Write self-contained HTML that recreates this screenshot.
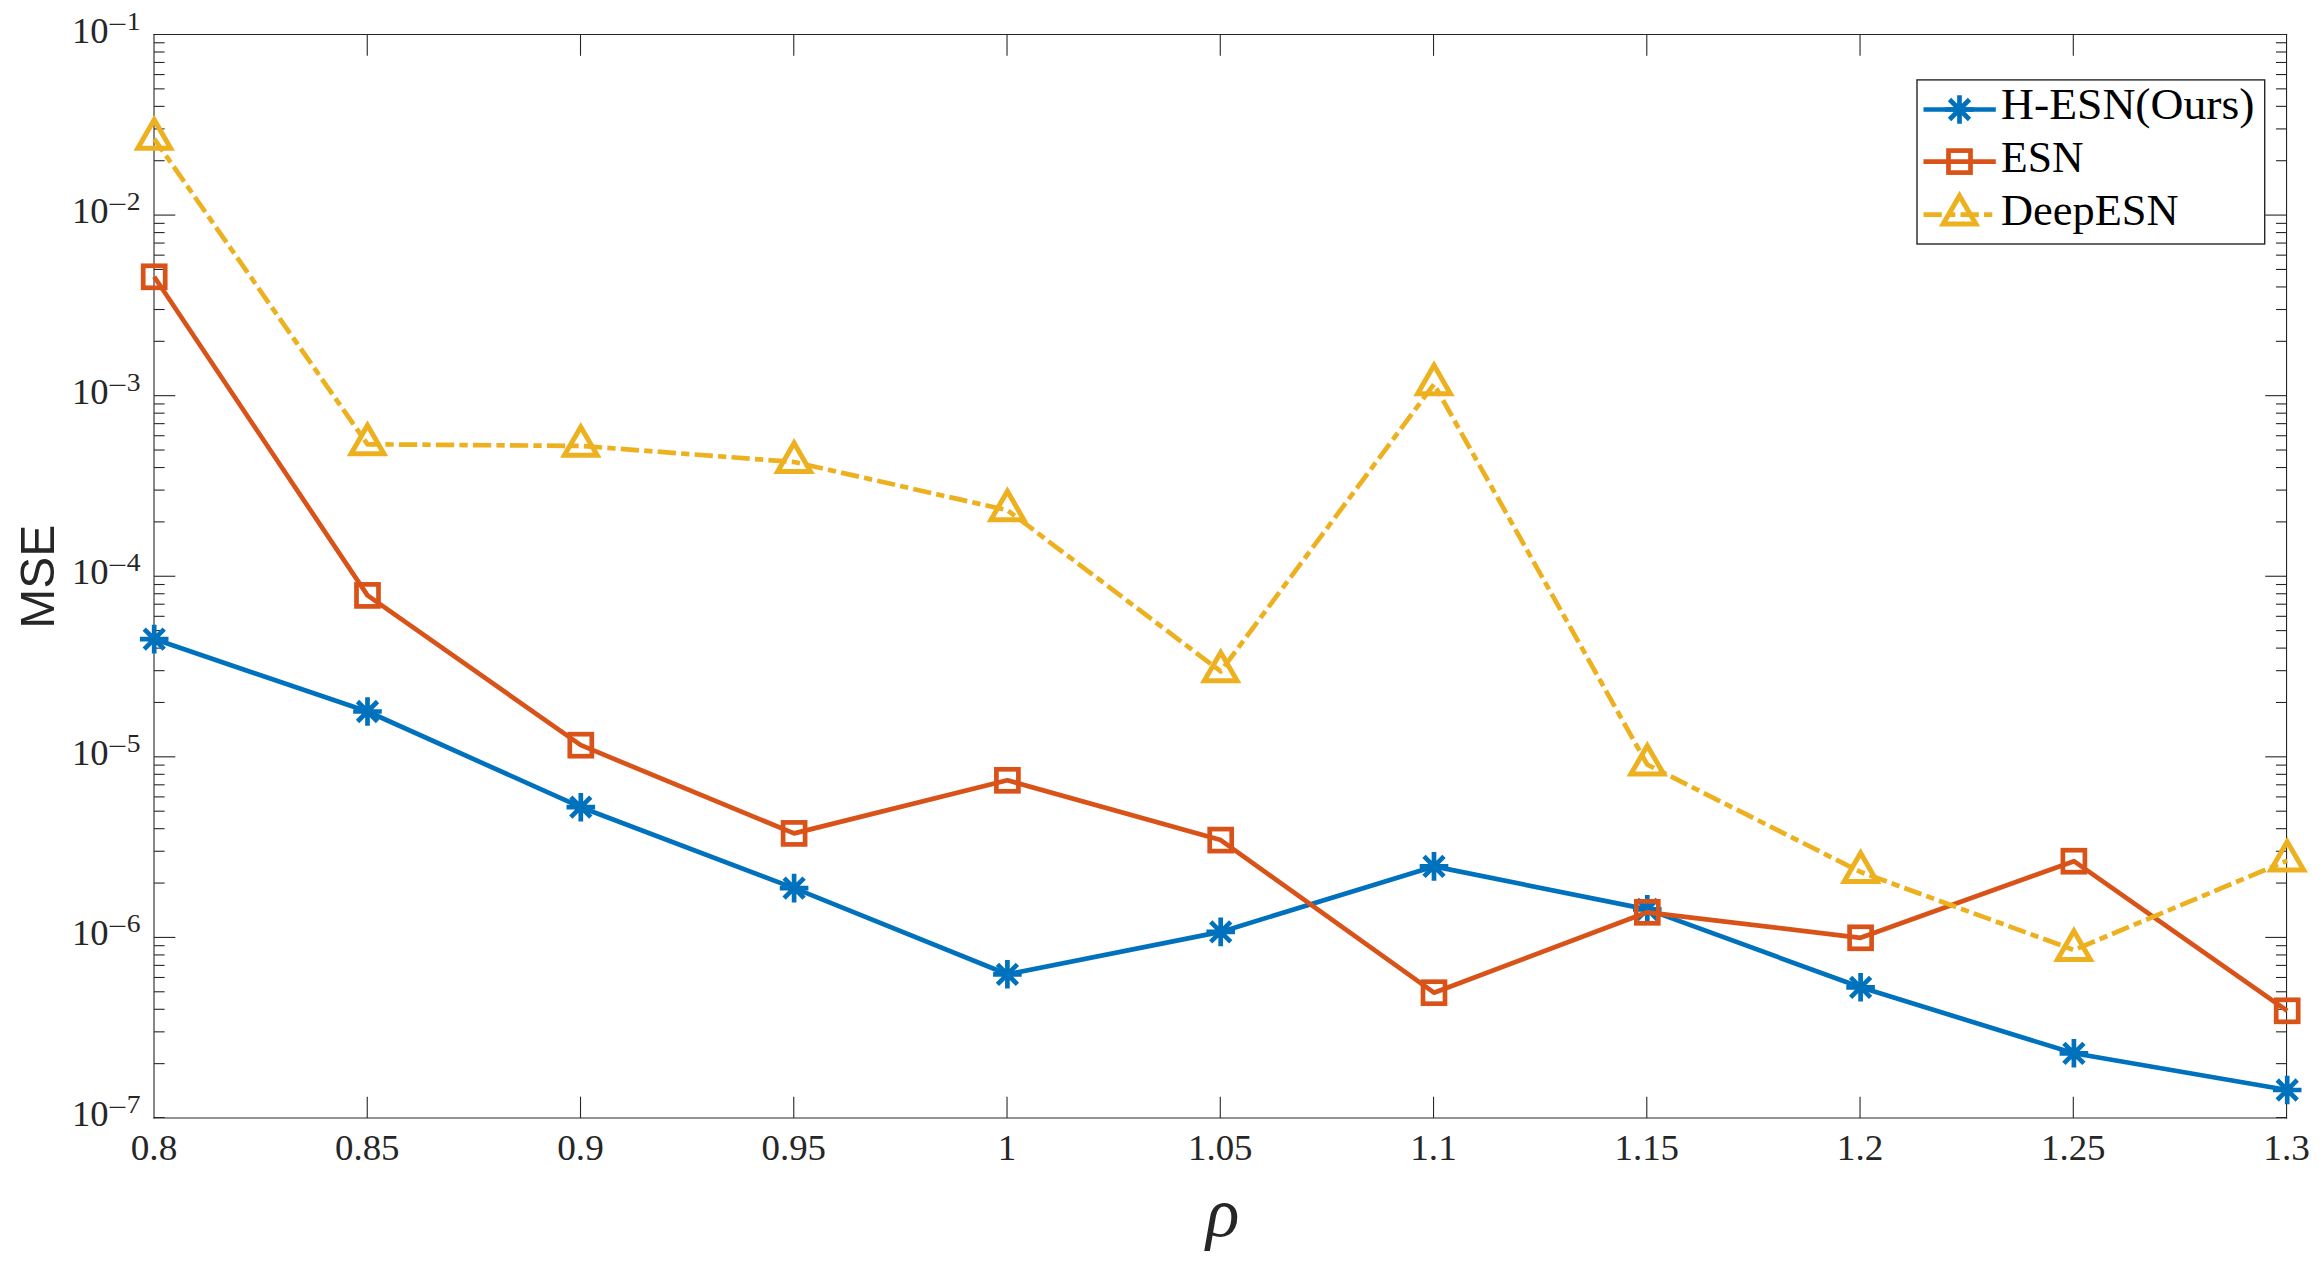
<!DOCTYPE html>
<html lang="en"><head><meta charset="utf-8"><title>MSE vs rho</title>
<style>html,body{margin:0;padding:0;background:#fff;}body{width:2324px;height:1277px;overflow:hidden;}svg{display:block;}</style>
</head><body>
<svg width="2324" height="1277" viewBox="0 0 2324 1277">
<rect x="0" y="0" width="2324" height="1277" fill="#ffffff"/>
<g stroke="#262626" stroke-width="1.1" fill="none" stroke-linecap="butt">
<line x1="154.0" y1="33.9" x2="154.0" y2="1118.6"/>
<line x1="2286.55" y1="33.9" x2="2286.55" y2="1118.6"/>
<line x1="153.4" y1="34.5" x2="2287.15" y2="34.5"/>
<line x1="153.4" y1="1118.0" x2="2287.15" y2="1118.0"/>
<line x1="367.25" y1="1118.0" x2="367.25" y2="1096.7"/>
<line x1="367.25" y1="34.5" x2="367.25" y2="55.8"/>
<line x1="580.51" y1="1118.0" x2="580.51" y2="1096.7"/>
<line x1="580.51" y1="34.5" x2="580.51" y2="55.8"/>
<line x1="793.77" y1="1118.0" x2="793.77" y2="1096.7"/>
<line x1="793.77" y1="34.5" x2="793.77" y2="55.8"/>
<line x1="1007.02" y1="1118.0" x2="1007.02" y2="1096.7"/>
<line x1="1007.02" y1="34.5" x2="1007.02" y2="55.8"/>
<line x1="1220.28" y1="1118.0" x2="1220.28" y2="1096.7"/>
<line x1="1220.28" y1="34.5" x2="1220.28" y2="55.8"/>
<line x1="1433.53" y1="1118.0" x2="1433.53" y2="1096.7"/>
<line x1="1433.53" y1="34.5" x2="1433.53" y2="55.8"/>
<line x1="1646.79" y1="1118.0" x2="1646.79" y2="1096.7"/>
<line x1="1646.79" y1="34.5" x2="1646.79" y2="55.8"/>
<line x1="1860.04" y1="1118.0" x2="1860.04" y2="1096.7"/>
<line x1="1860.04" y1="34.5" x2="1860.04" y2="55.8"/>
<line x1="2073.30" y1="1118.0" x2="2073.30" y2="1096.7"/>
<line x1="2073.30" y1="34.5" x2="2073.30" y2="55.8"/>
<line x1="154.0" y1="160.72" x2="164.6" y2="160.72"/>
<line x1="2286.55" y1="160.72" x2="2275.9500000000003" y2="160.72"/>
<line x1="154.0" y1="128.92" x2="164.6" y2="128.92"/>
<line x1="2286.55" y1="128.92" x2="2275.9500000000003" y2="128.92"/>
<line x1="154.0" y1="106.36" x2="164.6" y2="106.36"/>
<line x1="2286.55" y1="106.36" x2="2275.9500000000003" y2="106.36"/>
<line x1="154.0" y1="88.86" x2="164.6" y2="88.86"/>
<line x1="2286.55" y1="88.86" x2="2275.9500000000003" y2="88.86"/>
<line x1="154.0" y1="74.56" x2="164.6" y2="74.56"/>
<line x1="2286.55" y1="74.56" x2="2275.9500000000003" y2="74.56"/>
<line x1="154.0" y1="62.47" x2="164.6" y2="62.47"/>
<line x1="2286.55" y1="62.47" x2="2275.9500000000003" y2="62.47"/>
<line x1="154.0" y1="52.00" x2="164.6" y2="52.00"/>
<line x1="2286.55" y1="52.00" x2="2275.9500000000003" y2="52.00"/>
<line x1="154.0" y1="42.76" x2="164.6" y2="42.76"/>
<line x1="2286.55" y1="42.76" x2="2275.9500000000003" y2="42.76"/>
<line x1="154.0" y1="215.08" x2="175.3" y2="215.08"/>
<line x1="2286.55" y1="215.08" x2="2265.25" y2="215.08"/>
<line x1="154.0" y1="341.31" x2="164.6" y2="341.31"/>
<line x1="2286.55" y1="341.31" x2="2275.9500000000003" y2="341.31"/>
<line x1="154.0" y1="309.51" x2="164.6" y2="309.51"/>
<line x1="2286.55" y1="309.51" x2="2275.9500000000003" y2="309.51"/>
<line x1="154.0" y1="286.94" x2="164.6" y2="286.94"/>
<line x1="2286.55" y1="286.94" x2="2275.9500000000003" y2="286.94"/>
<line x1="154.0" y1="269.44" x2="164.6" y2="269.44"/>
<line x1="2286.55" y1="269.44" x2="2275.9500000000003" y2="269.44"/>
<line x1="154.0" y1="255.15" x2="164.6" y2="255.15"/>
<line x1="2286.55" y1="255.15" x2="2275.9500000000003" y2="255.15"/>
<line x1="154.0" y1="243.06" x2="164.6" y2="243.06"/>
<line x1="2286.55" y1="243.06" x2="2275.9500000000003" y2="243.06"/>
<line x1="154.0" y1="232.58" x2="164.6" y2="232.58"/>
<line x1="2286.55" y1="232.58" x2="2275.9500000000003" y2="232.58"/>
<line x1="154.0" y1="223.35" x2="164.6" y2="223.35"/>
<line x1="2286.55" y1="223.35" x2="2275.9500000000003" y2="223.35"/>
<line x1="154.0" y1="395.67" x2="175.3" y2="395.67"/>
<line x1="2286.55" y1="395.67" x2="2265.25" y2="395.67"/>
<line x1="154.0" y1="521.89" x2="164.6" y2="521.89"/>
<line x1="2286.55" y1="521.89" x2="2275.9500000000003" y2="521.89"/>
<line x1="154.0" y1="490.09" x2="164.6" y2="490.09"/>
<line x1="2286.55" y1="490.09" x2="2275.9500000000003" y2="490.09"/>
<line x1="154.0" y1="467.53" x2="164.6" y2="467.53"/>
<line x1="2286.55" y1="467.53" x2="2275.9500000000003" y2="467.53"/>
<line x1="154.0" y1="450.03" x2="164.6" y2="450.03"/>
<line x1="2286.55" y1="450.03" x2="2275.9500000000003" y2="450.03"/>
<line x1="154.0" y1="435.73" x2="164.6" y2="435.73"/>
<line x1="2286.55" y1="435.73" x2="2275.9500000000003" y2="435.73"/>
<line x1="154.0" y1="423.64" x2="164.6" y2="423.64"/>
<line x1="2286.55" y1="423.64" x2="2275.9500000000003" y2="423.64"/>
<line x1="154.0" y1="413.17" x2="164.6" y2="413.17"/>
<line x1="2286.55" y1="413.17" x2="2275.9500000000003" y2="413.17"/>
<line x1="154.0" y1="403.93" x2="164.6" y2="403.93"/>
<line x1="2286.55" y1="403.93" x2="2275.9500000000003" y2="403.93"/>
<line x1="154.0" y1="576.25" x2="175.3" y2="576.25"/>
<line x1="2286.55" y1="576.25" x2="2265.25" y2="576.25"/>
<line x1="154.0" y1="702.47" x2="164.6" y2="702.47"/>
<line x1="2286.55" y1="702.47" x2="2275.9500000000003" y2="702.47"/>
<line x1="154.0" y1="670.67" x2="164.6" y2="670.67"/>
<line x1="2286.55" y1="670.67" x2="2275.9500000000003" y2="670.67"/>
<line x1="154.0" y1="648.11" x2="164.6" y2="648.11"/>
<line x1="2286.55" y1="648.11" x2="2275.9500000000003" y2="648.11"/>
<line x1="154.0" y1="630.61" x2="164.6" y2="630.61"/>
<line x1="2286.55" y1="630.61" x2="2275.9500000000003" y2="630.61"/>
<line x1="154.0" y1="616.31" x2="164.6" y2="616.31"/>
<line x1="2286.55" y1="616.31" x2="2275.9500000000003" y2="616.31"/>
<line x1="154.0" y1="604.22" x2="164.6" y2="604.22"/>
<line x1="2286.55" y1="604.22" x2="2275.9500000000003" y2="604.22"/>
<line x1="154.0" y1="593.75" x2="164.6" y2="593.75"/>
<line x1="2286.55" y1="593.75" x2="2275.9500000000003" y2="593.75"/>
<line x1="154.0" y1="584.51" x2="164.6" y2="584.51"/>
<line x1="2286.55" y1="584.51" x2="2275.9500000000003" y2="584.51"/>
<line x1="154.0" y1="756.83" x2="175.3" y2="756.83"/>
<line x1="2286.55" y1="756.83" x2="2265.25" y2="756.83"/>
<line x1="154.0" y1="883.06" x2="164.6" y2="883.06"/>
<line x1="2286.55" y1="883.06" x2="2275.9500000000003" y2="883.06"/>
<line x1="154.0" y1="851.26" x2="164.6" y2="851.26"/>
<line x1="2286.55" y1="851.26" x2="2275.9500000000003" y2="851.26"/>
<line x1="154.0" y1="828.69" x2="164.6" y2="828.69"/>
<line x1="2286.55" y1="828.69" x2="2275.9500000000003" y2="828.69"/>
<line x1="154.0" y1="811.19" x2="164.6" y2="811.19"/>
<line x1="2286.55" y1="811.19" x2="2275.9500000000003" y2="811.19"/>
<line x1="154.0" y1="796.90" x2="164.6" y2="796.90"/>
<line x1="2286.55" y1="796.90" x2="2275.9500000000003" y2="796.90"/>
<line x1="154.0" y1="784.81" x2="164.6" y2="784.81"/>
<line x1="2286.55" y1="784.81" x2="2275.9500000000003" y2="784.81"/>
<line x1="154.0" y1="774.33" x2="164.6" y2="774.33"/>
<line x1="2286.55" y1="774.33" x2="2275.9500000000003" y2="774.33"/>
<line x1="154.0" y1="765.10" x2="164.6" y2="765.10"/>
<line x1="2286.55" y1="765.10" x2="2275.9500000000003" y2="765.10"/>
<line x1="154.0" y1="937.42" x2="175.3" y2="937.42"/>
<line x1="2286.55" y1="937.42" x2="2265.25" y2="937.42"/>
<line x1="154.0" y1="1063.64" x2="164.6" y2="1063.64"/>
<line x1="2286.55" y1="1063.64" x2="2275.9500000000003" y2="1063.64"/>
<line x1="154.0" y1="1031.84" x2="164.6" y2="1031.84"/>
<line x1="2286.55" y1="1031.84" x2="2275.9500000000003" y2="1031.84"/>
<line x1="154.0" y1="1009.28" x2="164.6" y2="1009.28"/>
<line x1="2286.55" y1="1009.28" x2="2275.9500000000003" y2="1009.28"/>
<line x1="154.0" y1="991.78" x2="164.6" y2="991.78"/>
<line x1="2286.55" y1="991.78" x2="2275.9500000000003" y2="991.78"/>
<line x1="154.0" y1="977.48" x2="164.6" y2="977.48"/>
<line x1="2286.55" y1="977.48" x2="2275.9500000000003" y2="977.48"/>
<line x1="154.0" y1="965.39" x2="164.6" y2="965.39"/>
<line x1="2286.55" y1="965.39" x2="2275.9500000000003" y2="965.39"/>
<line x1="154.0" y1="954.92" x2="164.6" y2="954.92"/>
<line x1="2286.55" y1="954.92" x2="2275.9500000000003" y2="954.92"/>
<line x1="154.0" y1="945.68" x2="164.6" y2="945.68"/>
<line x1="2286.55" y1="945.68" x2="2275.9500000000003" y2="945.68"/>
<line x1="154.0" y1="1117.5" x2="164.6" y2="1117.5" stroke-width="1"/>
<line x1="2286.55" y1="1117.5" x2="2275.9500000000003" y2="1117.5" stroke-width="1"/>
</g>
<g font-family="&quot;Liberation Serif&quot;, serif" font-size="36.5" fill="#262626" text-anchor="middle">
<text x="154.00" y="1159.5" textLength="46.5" lengthAdjust="spacingAndGlyphs">0.8</text>
<text x="367.25" y="1159.5" textLength="64.5" lengthAdjust="spacingAndGlyphs">0.85</text>
<text x="580.51" y="1159.5" textLength="46.5" lengthAdjust="spacingAndGlyphs">0.9</text>
<text x="793.77" y="1159.5" textLength="64.5" lengthAdjust="spacingAndGlyphs">0.95</text>
<text x="1007.02" y="1159.5" textLength="18.5" lengthAdjust="spacingAndGlyphs">1</text>
<text x="1220.28" y="1159.5" textLength="64.5" lengthAdjust="spacingAndGlyphs">1.05</text>
<text x="1433.53" y="1159.5" textLength="46.5" lengthAdjust="spacingAndGlyphs">1.1</text>
<text x="1646.79" y="1159.5" textLength="64.5" lengthAdjust="spacingAndGlyphs">1.15</text>
<text x="1860.04" y="1159.5" textLength="46.5" lengthAdjust="spacingAndGlyphs">1.2</text>
<text x="2073.30" y="1159.5" textLength="64.5" lengthAdjust="spacingAndGlyphs">1.25</text>
<text x="2286.55" y="1159.5" textLength="46.5" lengthAdjust="spacingAndGlyphs">1.3</text>
</g>
<g font-family="&quot;Liberation Serif&quot;, serif" fill="#262626">
<text x="72.0" y="42.80" font-size="36.5" textLength="36.6" lengthAdjust="spacingAndGlyphs">10</text>
<text x="108.0" y="31.70" font-size="23.7" textLength="19.2" lengthAdjust="spacingAndGlyphs">−</text>
<text x="126.8" y="30.00" font-size="25" textLength="13.8" lengthAdjust="spacingAndGlyphs">1</text>
<text x="72.0" y="223.28" font-size="36.5" textLength="36.6" lengthAdjust="spacingAndGlyphs">10</text>
<text x="108.0" y="212.18" font-size="23.7" textLength="19.2" lengthAdjust="spacingAndGlyphs">−</text>
<text x="126.8" y="210.48" font-size="25" textLength="13.8" lengthAdjust="spacingAndGlyphs">2</text>
<text x="72.0" y="403.76" font-size="36.5" textLength="36.6" lengthAdjust="spacingAndGlyphs">10</text>
<text x="108.0" y="392.66" font-size="23.7" textLength="19.2" lengthAdjust="spacingAndGlyphs">−</text>
<text x="126.8" y="390.96" font-size="25" textLength="13.8" lengthAdjust="spacingAndGlyphs">3</text>
<text x="72.0" y="584.24" font-size="36.5" textLength="36.6" lengthAdjust="spacingAndGlyphs">10</text>
<text x="108.0" y="573.14" font-size="23.7" textLength="19.2" lengthAdjust="spacingAndGlyphs">−</text>
<text x="126.8" y="571.44" font-size="25" textLength="13.8" lengthAdjust="spacingAndGlyphs">4</text>
<text x="72.0" y="764.72" font-size="36.5" textLength="36.6" lengthAdjust="spacingAndGlyphs">10</text>
<text x="108.0" y="753.62" font-size="23.7" textLength="19.2" lengthAdjust="spacingAndGlyphs">−</text>
<text x="126.8" y="751.92" font-size="25" textLength="13.8" lengthAdjust="spacingAndGlyphs">5</text>
<text x="72.0" y="945.20" font-size="36.5" textLength="36.6" lengthAdjust="spacingAndGlyphs">10</text>
<text x="108.0" y="934.10" font-size="23.7" textLength="19.2" lengthAdjust="spacingAndGlyphs">−</text>
<text x="126.8" y="932.40" font-size="25" textLength="13.8" lengthAdjust="spacingAndGlyphs">6</text>
<text x="72.0" y="1125.68" font-size="36.5" textLength="36.6" lengthAdjust="spacingAndGlyphs">10</text>
<text x="108.0" y="1114.58" font-size="23.7" textLength="19.2" lengthAdjust="spacingAndGlyphs">−</text>
<text x="126.8" y="1112.88" font-size="25" textLength="13.8" lengthAdjust="spacingAndGlyphs">7</text>
</g>
<text transform="translate(53.9,576.7) rotate(-90)" text-anchor="middle" font-family="&quot;Liberation Sans&quot;, sans-serif" font-size="48.2" textLength="103.9" lengthAdjust="spacingAndGlyphs" fill="#262626">MSE</text>
<text x="1206" y="1236.1" font-family="&quot;Liberation Serif&quot;, serif" font-style="italic" font-size="69.5" fill="#262626">ρ</text>
<polyline points="154.20,639.10 367.50,711.50 580.80,807.20 794.10,888.10 1007.40,974.30 1220.70,931.90 1434.00,866.40 1647.30,909.40 1860.60,987.30 2073.90,1053.30 2287.20,1090.00" fill="none" stroke="#0072BD" stroke-width="4.7" stroke-linejoin="round"/>
<path d="M139.90 639.10H168.50M154.20 624.80V653.40M144.20 629.10L164.20 649.10M144.20 649.10L164.20 629.10" stroke="#0072BD" stroke-width="4.7" fill="none"/>
<path d="M353.20 711.50H381.80M367.50 697.20V725.80M357.50 701.50L377.50 721.50M357.50 721.50L377.50 701.50" stroke="#0072BD" stroke-width="4.7" fill="none"/>
<path d="M566.50 807.20H595.10M580.80 792.90V821.50M570.80 797.20L590.80 817.20M570.80 817.20L590.80 797.20" stroke="#0072BD" stroke-width="4.7" fill="none"/>
<path d="M779.80 888.10H808.40M794.10 873.80V902.40M784.10 878.10L804.10 898.10M784.10 898.10L804.10 878.10" stroke="#0072BD" stroke-width="4.7" fill="none"/>
<path d="M993.10 974.30H1021.70M1007.40 960.00V988.60M997.40 964.30L1017.40 984.30M997.40 984.30L1017.40 964.30" stroke="#0072BD" stroke-width="4.7" fill="none"/>
<path d="M1206.40 931.90H1235.00M1220.70 917.60V946.20M1210.70 921.90L1230.70 941.90M1210.70 941.90L1230.70 921.90" stroke="#0072BD" stroke-width="4.7" fill="none"/>
<path d="M1419.70 866.40H1448.30M1434.00 852.10V880.70M1424.00 856.40L1444.00 876.40M1424.00 876.40L1444.00 856.40" stroke="#0072BD" stroke-width="4.7" fill="none"/>
<path d="M1633.00 909.40H1661.60M1647.30 895.10V923.70M1637.30 899.40L1657.30 919.40M1637.30 919.40L1657.30 899.40" stroke="#0072BD" stroke-width="4.7" fill="none"/>
<path d="M1846.30 987.30H1874.90M1860.60 973.00V1001.60M1850.60 977.30L1870.60 997.30M1850.60 997.30L1870.60 977.30" stroke="#0072BD" stroke-width="4.7" fill="none"/>
<path d="M2059.60 1053.30H2088.20M2073.90 1039.00V1067.60M2063.90 1043.30L2083.90 1063.30M2063.90 1063.30L2083.90 1043.30" stroke="#0072BD" stroke-width="4.7" fill="none"/>
<path d="M2272.90 1090.00H2301.50M2287.20 1075.70V1104.30M2277.20 1080.00L2297.20 1100.00M2277.20 1100.00L2297.20 1080.00" stroke="#0072BD" stroke-width="4.7" fill="none"/>
<polyline points="154.20,276.80 367.50,595.40 580.80,745.20 794.10,833.40 1007.40,780.30 1220.70,840.10 1434.00,992.70 1647.30,912.30 1860.60,937.80 2073.90,861.20 2287.20,1010.80" fill="none" stroke="#D95319" stroke-width="4.7" stroke-linejoin="round"/>
<rect x="143.20" y="265.80" width="22.0" height="22.0" stroke="#D95319" stroke-width="4.7" fill="none"/>
<rect x="356.50" y="584.40" width="22.0" height="22.0" stroke="#D95319" stroke-width="4.7" fill="none"/>
<rect x="569.80" y="734.20" width="22.0" height="22.0" stroke="#D95319" stroke-width="4.7" fill="none"/>
<rect x="783.10" y="822.40" width="22.0" height="22.0" stroke="#D95319" stroke-width="4.7" fill="none"/>
<rect x="996.40" y="769.30" width="22.0" height="22.0" stroke="#D95319" stroke-width="4.7" fill="none"/>
<rect x="1209.70" y="829.10" width="22.0" height="22.0" stroke="#D95319" stroke-width="4.7" fill="none"/>
<rect x="1423.00" y="981.70" width="22.0" height="22.0" stroke="#D95319" stroke-width="4.7" fill="none"/>
<rect x="1636.30" y="901.30" width="22.0" height="22.0" stroke="#D95319" stroke-width="4.7" fill="none"/>
<rect x="1849.60" y="926.80" width="22.0" height="22.0" stroke="#D95319" stroke-width="4.7" fill="none"/>
<rect x="2062.90" y="850.20" width="22.0" height="22.0" stroke="#D95319" stroke-width="4.7" fill="none"/>
<rect x="2276.20" y="999.80" width="22.0" height="22.0" stroke="#D95319" stroke-width="4.7" fill="none"/>
<polyline points="154.20,138.80 367.50,444.30 580.80,445.90 794.10,462.00 1007.40,510.20 1220.70,671.40 1434.00,384.20 1647.30,764.60 1860.60,872.00 2073.90,950.00 2287.20,860.60" fill="none" stroke="#EDB120" stroke-width="4.7" stroke-linejoin="round" stroke-dasharray="18.3 5.2 8.3 5.2" stroke-dashoffset="3"/>
<path d="M154.20 119.86L170.60 148.27L137.80 148.27Z" stroke="#EDB120" stroke-width="5" fill="none" stroke-linejoin="miter" stroke-miterlimit="10"/>
<path d="M367.50 425.36L383.90 453.77L351.10 453.77Z" stroke="#EDB120" stroke-width="5" fill="none" stroke-linejoin="miter" stroke-miterlimit="10"/>
<path d="M580.80 426.96L597.20 455.37L564.40 455.37Z" stroke="#EDB120" stroke-width="5" fill="none" stroke-linejoin="miter" stroke-miterlimit="10"/>
<path d="M794.10 443.06L810.50 471.47L777.70 471.47Z" stroke="#EDB120" stroke-width="5" fill="none" stroke-linejoin="miter" stroke-miterlimit="10"/>
<path d="M1007.40 491.26L1023.80 519.67L991.00 519.67Z" stroke="#EDB120" stroke-width="5" fill="none" stroke-linejoin="miter" stroke-miterlimit="10"/>
<path d="M1220.70 652.46L1237.10 680.87L1204.30 680.87Z" stroke="#EDB120" stroke-width="5" fill="none" stroke-linejoin="miter" stroke-miterlimit="10"/>
<path d="M1434.00 365.26L1450.40 393.67L1417.60 393.67Z" stroke="#EDB120" stroke-width="5" fill="none" stroke-linejoin="miter" stroke-miterlimit="10"/>
<path d="M1647.30 745.66L1663.70 774.07L1630.90 774.07Z" stroke="#EDB120" stroke-width="5" fill="none" stroke-linejoin="miter" stroke-miterlimit="10"/>
<path d="M1860.60 853.06L1877.00 881.47L1844.20 881.47Z" stroke="#EDB120" stroke-width="5" fill="none" stroke-linejoin="miter" stroke-miterlimit="10"/>
<path d="M2073.90 931.06L2090.30 959.47L2057.50 959.47Z" stroke="#EDB120" stroke-width="5" fill="none" stroke-linejoin="miter" stroke-miterlimit="10"/>
<path d="M2287.20 841.66L2303.60 870.07L2270.80 870.07Z" stroke="#EDB120" stroke-width="5" fill="none" stroke-linejoin="miter" stroke-miterlimit="10"/>
<rect x="1917.0" y="79.9" width="347.6999999999998" height="164.1" fill="#ffffff" stroke="#262626" stroke-width="1.4"/>
<line x1="1923.5" y1="109.5" x2="1995.8" y2="109.5" stroke="#0072BD" stroke-width="4.7"/>
<path d="M1945.20 109.50H1973.80M1959.50 95.20V123.80M1949.50 99.50L1969.50 119.50M1949.50 119.50L1969.50 99.50" stroke="#0072BD" stroke-width="4.7" fill="none"/>
<line x1="1923.5" y1="161.6" x2="1995.8" y2="161.6" stroke="#D95319" stroke-width="4.7"/>
<rect x="1948.50" y="150.60" width="22.0" height="22.0" stroke="#D95319" stroke-width="4.7" fill="none"/>
<line x1="1923.5" y1="214.6" x2="1995.8" y2="214.6" stroke="#EDB120" stroke-width="4.7" stroke-dasharray="18.3 5.2 8.3 5.2"/>
<path d="M1959.50 195.66L1975.90 224.07L1943.10 224.07Z" stroke="#EDB120" stroke-width="5" fill="none" stroke-linejoin="miter" stroke-miterlimit="10"/>
<g font-family="&quot;Liberation Serif&quot;, serif" font-size="43.5" fill="#000000">
<text x="2001" y="119.2" textLength="253.5" lengthAdjust="spacingAndGlyphs">H-ESN(Ours)</text>
<text x="2001" y="172.1" textLength="82.5" lengthAdjust="spacingAndGlyphs">ESN</text>
<text x="2001" y="224.6" textLength="177.5" lengthAdjust="spacingAndGlyphs">DeepESN</text>
</g>
</svg>
</body></html>
